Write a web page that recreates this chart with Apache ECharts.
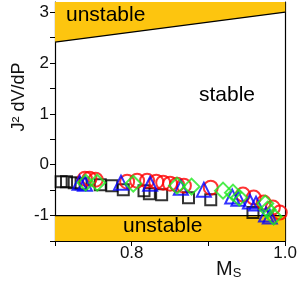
<!DOCTYPE html>
<html><head><meta charset="utf-8">
<script src="https://cdn.jsdelivr.net/npm/echarts@6/dist/echarts.min.js"></script>
<style>html,body{margin:0;padding:0;background:#fff}#c{width:300px;height:285px}</style>
</head><body><div id="c"></div>
<script>
// Data
const blackSquares = [[0.708,-0.333],[0.715,-0.333],[0.725,-0.353],[0.734,-0.373],[0.759,-0.392],[0.774,-0.412],[0.789,-0.49],[0.816,-0.51],[0.823,-0.57],[0.839,-0.59],[0.874,-0.65],[0.903,-0.69],[0.958,-0.94]];
const redCircles = [[0.739,-0.275],[0.745,-0.275],[0.753,-0.294],[0.794,-0.333],[0.807,-0.314],[0.820,-0.314],[0.832,-0.333],[0.841,-0.353],[0.850,-0.373],[0.859,-0.392],[0.868,-0.412],[0.903,-0.451],[0.945,-0.588],[0.959,-0.647],[0.972,-0.745],[0.984,-0.843],[0.993,-0.941]];
const blueTriangles = [[0.732,-0.353],[0.739,-0.373],[0.786,-0.353],[0.824,-0.373],[0.864,-0.451],[0.894,-0.49],[0.931,-0.627],[0.939,-0.667],[0.954,-0.725],[0.962,-0.765],[0.975,-0.98],[0.980,-1.02]];
const greenDiamonds = [[0.740,-0.353],[0.755,-0.353],[0.802,-0.373],[0.859,-0.412],[0.878,-0.431],[0.919,-0.51],[0.932,-0.549],[0.940,-0.647],[0.974,-0.765],[0.977,-0.882],[0.985,-1.02]];
const upperBoundary = [[0.7,2.41],[1.0,3.0]];
const lowerBoundary = [[0.7,-1],[1.0,-1]];
const xLabels = ['0.8','1.0'];
const yLabels = ['-1','0','1','2','3'];

const FONT = 'Liberation Sans, Arial, sans-serif';
const YEL = '#fdc50f';
const chart = echarts.init(document.getElementById('c'), null, {renderer:'canvas'});
function fmtX(v){ const s = v.toFixed(1); return xLabels.includes(s) ? s : ''; }
function fmtY(v){ const s = String(Math.round(v*10)/10); return yLabels.includes(s) ? s : ''; }
function pts(data, symbol, size, color, z){
  return {type:'scatter', data, symbol, symbolSize:size, z,
    itemStyle:{color:'rgba(0,0,0,0)', borderColor:color, borderWidth:2}};
}
chart.setOption({
  animation:false,
  grid:{left:55, right:12, top:2, bottom:44},
  xAxis:{type:'value', min:0.7, max:1.0, interval:0.1,
    axisLine:{show:true, onZero:false, lineStyle:{color:'#000', width:1.2}},
    axisTick:{show:true, length:5, lineStyle:{color:'#000'}},
    axisLabel:{formatter:fmtX, fontSize:17, color:'#111', fontFamily:FONT, margin:4, showMinLabel:true, showMaxLabel:true},
    splitLine:{show:false}},
  yAxis:[{type:'value', min:-1.5, max:3.2, interval:0.5,
    axisLine:{show:true, onZero:false, lineStyle:{color:'#000', width:1.2}},
    axisTick:{show:true, length:5, lineStyle:{color:'#000'}},
    axisLabel:{formatter:fmtY, fontSize:17, color:'#111', fontFamily:FONT, margin:6, showMaxLabel:false},
    splitLine:{show:false}},
   {type:'value', position:'right', min:-1.5, max:3.2, interval:0.5,
    axisLine:{show:true, onZero:false, lineStyle:{color:'#000', width:1.2}},
    axisTick:{show:false}, axisLabel:{show:false}, splitLine:{show:false}}],
  series:[
    {type:'line', data:upperBoundary, symbol:'none', z:1,
      lineStyle:{color:'#000', width:1.2}, areaStyle:{color:YEL, opacity:1, origin:'end'}},
    {type:'line', data:lowerBoundary, symbol:'none', z:1,
      lineStyle:{color:'#000', width:1.2}, areaStyle:{color:YEL, opacity:1, origin:'start'}},
    pts(blackSquares,'rect',11,'#000',3),
    pts(redCircles,'circle',14,'#ff0000',4),
    pts(blueTriangles,'triangle',14,'#0000ff',5),
    pts(greenDiamonds,'diamond',16,'#1ee81e',6)
  ],
  graphic:[
    {type:'text', left:66, top:5, z:10, style:{text:'unstable', fontSize:21, fontFamily:FONT, fill:'#000'}},
    {type:'text', left:199, top:85, z:10, style:{text:'stable', fontSize:21, fontFamily:FONT, fill:'#000'}},
    {type:'text', left:123, top:216, z:10, style:{text:'unstable', fontSize:21, fontFamily:FONT, fill:'#000'}},
    {type:'text', x:19, y:97, rotation:Math.PI/2, z:10, style:{text:'J² dV/dP', fontSize:18, fontFamily:FONT, fill:'#111', align:'center', verticalAlign:'middle'}},
    {type:'text', left:216, top:259, z:10, style:{text:'{m|M}{s|S}', fontFamily:FONT, fill:'#111',
      rich:{m:{fontSize:20, fontFamily:FONT, fill:'#111'}, s:{fontSize:13, fontFamily:FONT, fill:'#111', padding:[8,0,0,0]}}}}
  ]
});
</script></body></html>
